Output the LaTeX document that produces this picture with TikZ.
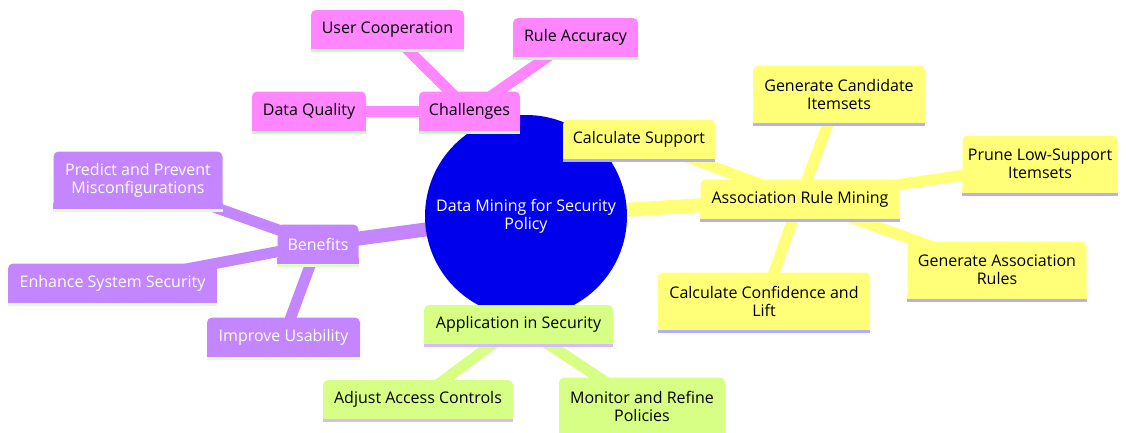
\documentclass[tikz,border=0pt]{standalone}
\usepackage{fontspec}
\setmainfont{Open Sans}
\usetikzlibrary{backgrounds}
\definecolor{rootc}{HTML}{0000EC}
\definecolor{yel}{HTML}{FFFF78}
\definecolor{yell}{HTML}{B0B0FF}
\definecolor{grn}{HTML}{D7FF86}
\definecolor{grnl}{HTML}{D6BCFF}
\definecolor{pur}{HTML}{C386FF}
\definecolor{purl}{HTML}{E0FFC8}
\definecolor{pnk}{HTML}{FF86FF}
\definecolor{pnkl}{HTML}{B8FFB8}
\tikzset{
  mm/.style={rectangle, rounded corners=3.75pt, inner xsep=2pt, inner ysep=0pt,
    minimum height=29.25pt, align=center, text=black,
    font=\fontsize{12}{13.5}\selectfont},
  two/.style={minimum height=42.75pt},
  wd/.style={minimum width=#1*0.75pt},
  edgeroot/.style={line width=10.5pt},
  edgeleaf/.style={line width=8.25pt},
}
\begin{document}
\begin{tikzpicture}[x=0.75pt,y=-0.75pt]
\useasboundingbox (0,0) rectangle (1126,432);
% root
\node[circle, fill=rootc, minimum size=151.5pt, inner sep=0pt, align=center, text=white,
  font=\fontsize{12}{13.5}\selectfont] (root) at (526,216) {Data Mining for Security\\Policy};
% challenges
\node[mm, fill=pnk, wd=101] (chal) at (469.5,111) {Challenges};
\node[mm, fill=pnk, wd=153] (userc) at (387.5,29.5) {User Cooperation};
\node[mm, fill=pnk, wd=125] (rulea) at (575.5,37.5) {Rule Accuracy};
\node[mm, fill=pnk, wd=114] (dataq) at (309,111) {Data Quality};
% association
\node[mm, fill=yel, wd=152] (calcs) at (639,139) {Calculate Support};
\node[mm, fill=yel, wd=199] (arm) at (800,199) {Association Rule Mining};
\node[mm, two, fill=yel, wd=172] (gci) at (839,94) {Generate Candidate\\Itemsets};
\node[mm, two, fill=yel, wd=155] (prune) at (1040,164) {Prune Low-Support\\Itemsets};
\node[mm, two, fill=yel, wd=179] (gar) at (997,270) {Generate Association\\Rules};
\node[mm, two, fill=yel, wd=212] (ccl) at (764,301) {Calculate Confidence and\\Lift};
% benefits
\node[mm, fill=pur, wd=81, text=white] (ben) at (318,244) {Benefits};
\node[mm, two, fill=pur, wd=169, text=white] (pred) at (138,180) {Predict and Prevent\\Misconfigurations};
\node[mm, fill=pur, wd=209, text=white] (ess) at (112.5,283) {Enhance System Security};
\node[mm, fill=pur, wd=153, text=white] (iu) at (283.5,337) {Improve Usability};
% application
\node[mm, fill=grn, wd=189] (app) at (518.5,324.5) {Application in Security};
\node[mm, fill=grn, wd=190] (aac) at (418,399.5) {Adjust Access Controls};
\node[mm, two, fill=grn, wd=166] (mrp) at (642,406) {Monitor and Refine\\Policies};
% square bottoms and bottom lines
\foreach \n/\f/\l in {chal/pnk/pnkl, userc/pnk/pnkl, rulea/pnk/pnkl, dataq/pnk/pnkl,
  calcs/yel/yell, arm/yel/yell, gci/yel/yell, prune/yel/yell, gar/yel/yell, ccl/yel/yell,
  ben/pur/purl, pred/pur/purl, ess/pur/purl, iu/pur/purl,
  app/grn/grnl, aac/grn/grnl, mrp/grn/grnl}{
  \fill[\f] ([yshift=4pt]\n.south west) rectangle (\n.south east);
  \fill[\l] (\n.south west) rectangle ([yshift=-2.25pt]\n.south east);
}
% edges
\begin{scope}[on background layer]
\draw[edgeroot, pnk] (root.center) -- (chal.center);
\draw[edgeroot, yel] (root.center) -- (arm.center);
\draw[edgeroot, pur] (root.center) -- (ben.center);
\draw[edgeroot, grn] (root.center) -- (app.center);
\draw[edgeleaf, pnk] (chal.center) -- (userc.center);
\draw[edgeleaf, pnk] (chal.center) -- (rulea.center);
\draw[edgeleaf, pnk] (chal.center) -- (dataq.center);
\draw[edgeleaf, yel] (arm.center) -- (calcs.center);
\draw[edgeleaf, yel] (arm.center) -- (gci.center);
\draw[edgeleaf, yel] (arm.center) -- (prune.center);
\draw[edgeleaf, yel] (arm.center) -- (gar.center);
\draw[edgeleaf, yel] (arm.center) -- (ccl.center);
\draw[edgeleaf, pur] (ben.center) -- (pred.center);
\draw[edgeleaf, pur] (ben.center) -- (ess.center);
\draw[edgeleaf, pur] (ben.center) -- (iu.center);
\draw[edgeleaf, grn] (app.center) -- (aac.center);
\draw[edgeleaf, grn] (app.center) -- (mrp.center);
\end{scope}
\end{tikzpicture}
\end{document}
